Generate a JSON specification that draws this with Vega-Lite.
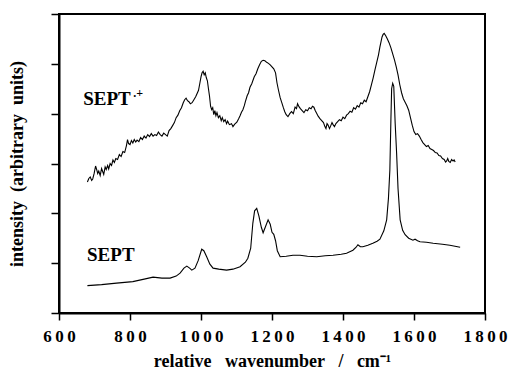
{
  "$schema": "https://vega.github.io/schema/vega-lite/v6.json",
  "width": 426,
  "height": 299,
  "autosize": {"type": "none"},
  "padding": {"left": 59, "top": 14, "right": 25, "bottom": 57},
  "background": "white",
  "config": {
    "view": {"stroke": "black", "strokeWidth": 2},
    "font": "Liberation Serif"
  },
  "datasets": {
    "spectra": [
      {"s":"rad","x":680,"y":2.63},{"s":"rad","x":684,"y":2.70},{"s":"rad","x":688,"y":2.73},{"s":"rad","x":692,"y":2.66},{"s":"rad","x":695,"y":2.69},{"s":"rad","x":699,"y":2.80},{"s":"rad","x":703,"y":2.95},{"s":"rad","x":706,"y":2.88},{"s":"rad","x":709,"y":2.80},{"s":"rad","x":712,"y":2.85},{"s":"rad","x":716,"y":2.76},{"s":"rad","x":720,"y":2.90},{"s":"rad","x":723,"y":2.84},{"s":"rad","x":726,"y":2.78},{"s":"rad","x":730,"y":2.93},{"s":"rad","x":733,"y":2.88},{"s":"rad","x":737,"y":2.96},{"s":"rad","x":740,"y":2.89},{"s":"rad","x":744,"y":3.00},{"s":"rad","x":748,"y":2.96},{"s":"rad","x":752,"y":3.07},{"s":"rad","x":756,"y":3.02},{"s":"rad","x":760,"y":3.10},{"s":"rad","x":765,"y":3.08},{"s":"rad","x":770,"y":3.18},{"s":"rad","x":775,"y":3.14},{"s":"rad","x":780,"y":3.24},{"s":"rad","x":785,"y":3.22},{"s":"rad","x":790,"y":3.36},{"s":"rad","x":793,"y":3.48},{"s":"rad","x":796,"y":3.40},{"s":"rad","x":800,"y":3.38},{"s":"rad","x":804,"y":3.46},{"s":"rad","x":808,"y":3.41},{"s":"rad","x":812,"y":3.48},{"s":"rad","x":816,"y":3.43},{"s":"rad","x":820,"y":3.47},{"s":"rad","x":825,"y":3.44},{"s":"rad","x":830,"y":3.52},{"s":"rad","x":835,"y":3.48},{"s":"rad","x":840,"y":3.55},{"s":"rad","x":845,"y":3.51},{"s":"rad","x":850,"y":3.58},{"s":"rad","x":855,"y":3.54},{"s":"rad","x":860,"y":3.60},{"s":"rad","x":865,"y":3.55},{"s":"rad","x":870,"y":3.58},{"s":"rad","x":875,"y":3.56},{"s":"rad","x":880,"y":3.63},{"s":"rad","x":885,"y":3.58},{"s":"rad","x":890,"y":3.55},{"s":"rad","x":895,"y":3.61},{"s":"rad","x":900,"y":3.58},{"s":"rad","x":905,"y":3.55},{"s":"rad","x":910,"y":3.66},{"s":"rad","x":915,"y":3.70},{"s":"rad","x":920,"y":3.76},{"s":"rad","x":925,"y":3.82},{"s":"rad","x":930,"y":3.92},{"s":"rad","x":935,"y":3.97},{"s":"rad","x":940,"y":4.06},{"s":"rad","x":945,"y":4.12},{"s":"rad","x":950,"y":4.22},{"s":"rad","x":954,"y":4.28},{"s":"rad","x":958,"y":4.31},{"s":"rad","x":962,"y":4.26},{"s":"rad","x":966,"y":4.24},{"s":"rad","x":970,"y":4.20},{"s":"rad","x":975,"y":4.22},{"s":"rad","x":980,"y":4.28},{"s":"rad","x":985,"y":4.34},{"s":"rad","x":990,"y":4.42},{"s":"rad","x":993,"y":4.47},{"s":"rad","x":997,"y":4.62},{"s":"rad","x":1000,"y":4.74},{"s":"rad","x":1003,"y":4.82},{"s":"rad","x":1006,"y":4.85},{"s":"rad","x":1009,"y":4.78},{"s":"rad","x":1012,"y":4.82},{"s":"rad","x":1015,"y":4.72},{"s":"rad","x":1018,"y":4.66},{"s":"rad","x":1021,"y":4.50},{"s":"rad","x":1024,"y":4.35},{"s":"rad","x":1027,"y":4.15},{"s":"rad","x":1030,"y":4.08},{"s":"rad","x":1033,"y":4.12},{"s":"rad","x":1036,"y":3.98},{"s":"rad","x":1039,"y":4.06},{"s":"rad","x":1042,"y":3.96},{"s":"rad","x":1045,"y":4.02},{"s":"rad","x":1049,"y":3.92},{"s":"rad","x":1053,"y":3.96},{"s":"rad","x":1057,"y":3.86},{"s":"rad","x":1060,"y":3.92},{"s":"rad","x":1064,"y":3.84},{"s":"rad","x":1068,"y":3.88},{"s":"rad","x":1072,"y":3.80},{"s":"rad","x":1075,"y":3.85},{"s":"rad","x":1080,"y":3.78},{"s":"rad","x":1086,"y":3.80},{"s":"rad","x":1090,"y":3.74},{"s":"rad","x":1095,"y":3.79},{"s":"rad","x":1101,"y":3.83},{"s":"rad","x":1106,"y":3.90},{"s":"rad","x":1110,"y":3.96},{"s":"rad","x":1114,"y":4.03},{"s":"rad","x":1118,"y":4.08},{"s":"rad","x":1122,"y":4.16},{"s":"rad","x":1125,"y":4.24},{"s":"rad","x":1130,"y":4.36},{"s":"rad","x":1134,"y":4.42},{"s":"rad","x":1138,"y":4.53},{"s":"rad","x":1143,"y":4.60},{"s":"rad","x":1150,"y":4.74},{"s":"rad","x":1155,"y":4.80},{"s":"rad","x":1160,"y":4.90},{"s":"rad","x":1165,"y":4.98},{"s":"rad","x":1170,"y":5.05},{"s":"rad","x":1175,"y":5.07},{"s":"rad","x":1180,"y":5.06},{"s":"rad","x":1185,"y":5.03},{"s":"rad","x":1190,"y":5.01},{"s":"rad","x":1195,"y":4.98},{"s":"rad","x":1200,"y":4.94},{"s":"rad","x":1205,"y":4.90},{"s":"rad","x":1210,"y":4.82},{"s":"rad","x":1214,"y":4.62},{"s":"rad","x":1218,"y":4.48},{"s":"rad","x":1223,"y":4.32},{"s":"rad","x":1228,"y":4.21},{"s":"rad","x":1232,"y":4.12},{"s":"rad","x":1236,"y":4.04},{"s":"rad","x":1240,"y":3.98},{"s":"rad","x":1245,"y":3.94},{"s":"rad","x":1250,"y":4.00},{"s":"rad","x":1255,"y":4.04},{"s":"rad","x":1260,"y":4.00},{"s":"rad","x":1265,"y":4.13},{"s":"rad","x":1269,"y":4.10},{"s":"rad","x":1272,"y":4.20},{"s":"rad","x":1276,"y":4.14},{"s":"rad","x":1280,"y":4.10},{"s":"rad","x":1285,"y":4.06},{"s":"rad","x":1290,"y":4.02},{"s":"rad","x":1295,"y":4.08},{"s":"rad","x":1300,"y":4.06},{"s":"rad","x":1305,"y":4.12},{"s":"rad","x":1310,"y":4.10},{"s":"rad","x":1314,"y":4.15},{"s":"rad","x":1318,"y":4.13},{"s":"rad","x":1322,"y":4.06},{"s":"rad","x":1325,"y":4.02},{"s":"rad","x":1330,"y":3.95},{"s":"rad","x":1335,"y":3.90},{"s":"rad","x":1340,"y":3.86},{"s":"rad","x":1345,"y":3.82},{"s":"rad","x":1349,"y":3.74},{"s":"rad","x":1352,"y":3.70},{"s":"rad","x":1355,"y":3.80},{"s":"rad","x":1358,"y":3.77},{"s":"rad","x":1362,"y":3.70},{"s":"rad","x":1365,"y":3.75},{"s":"rad","x":1369,"y":3.82},{"s":"rad","x":1372,"y":3.78},{"s":"rad","x":1376,"y":3.74},{"s":"rad","x":1380,"y":3.80},{"s":"rad","x":1385,"y":3.84},{"s":"rad","x":1390,"y":3.88},{"s":"rad","x":1395,"y":3.86},{"s":"rad","x":1400,"y":3.93},{"s":"rad","x":1405,"y":3.90},{"s":"rad","x":1410,"y":3.97},{"s":"rad","x":1415,"y":4.00},{"s":"rad","x":1420,"y":4.05},{"s":"rad","x":1425,"y":4.03},{"s":"rad","x":1430,"y":4.12},{"s":"rad","x":1435,"y":4.09},{"s":"rad","x":1440,"y":4.16},{"s":"rad","x":1445,"y":4.13},{"s":"rad","x":1450,"y":4.22},{"s":"rad","x":1455,"y":4.20},{"s":"rad","x":1460,"y":4.27},{"s":"rad","x":1465,"y":4.24},{"s":"rad","x":1470,"y":4.34},{"s":"rad","x":1475,"y":4.44},{"s":"rad","x":1480,"y":4.58},{"s":"rad","x":1485,"y":4.72},{"s":"rad","x":1490,"y":4.88},{"s":"rad","x":1495,"y":5.03},{"s":"rad","x":1500,"y":5.18},{"s":"rad","x":1504,"y":5.34},{"s":"rad","x":1507,"y":5.44},{"s":"rad","x":1510,"y":5.54},{"s":"rad","x":1513,"y":5.59},{"s":"rad","x":1516,"y":5.61},{"s":"rad","x":1520,"y":5.57},{"s":"rad","x":1525,"y":5.50},{"s":"rad","x":1530,"y":5.42},{"s":"rad","x":1535,"y":5.32},{"s":"rad","x":1540,"y":5.20},{"s":"rad","x":1545,"y":5.08},{"s":"rad","x":1550,"y":4.94},{"s":"rad","x":1555,"y":4.78},{"s":"rad","x":1560,"y":4.58},{"s":"rad","x":1565,"y":4.42},{"s":"rad","x":1570,"y":4.30},{"s":"rad","x":1575,"y":4.23},{"s":"rad","x":1580,"y":4.16},{"s":"rad","x":1585,"y":4.07},{"s":"rad","x":1590,"y":3.92},{"s":"rad","x":1595,"y":3.77},{"s":"rad","x":1600,"y":3.64},{"s":"rad","x":1605,"y":3.58},{"s":"rad","x":1610,"y":3.60},{"s":"rad","x":1615,"y":3.55},{"s":"rad","x":1620,"y":3.48},{"s":"rad","x":1625,"y":3.42},{"s":"rad","x":1630,"y":3.38},{"s":"rad","x":1635,"y":3.34},{"s":"rad","x":1640,"y":3.36},{"s":"rad","x":1645,"y":3.30},{"s":"rad","x":1650,"y":3.28},{"s":"rad","x":1655,"y":3.26},{"s":"rad","x":1660,"y":3.22},{"s":"rad","x":1665,"y":3.21},{"s":"rad","x":1670,"y":3.16},{"s":"rad","x":1675,"y":3.15},{"s":"rad","x":1680,"y":3.10},{"s":"rad","x":1685,"y":3.08},{"s":"rad","x":1689,"y":3.03},{"s":"rad","x":1692,"y":3.05},{"s":"rad","x":1695,"y":3.10},{"s":"rad","x":1698,"y":3.04},{"s":"rad","x":1702,"y":3.02},{"s":"rad","x":1706,"y":3.08},{"s":"rad","x":1710,"y":3.05},{"s":"rad","x":1713,"y":3.07},{"s":"rad","x":1716,"y":3.03},
      {"s":"neu","x":680,"y":0.55},{"s":"neu","x":720,"y":0.57},{"s":"neu","x":762,"y":0.60},{"s":"neu","x":808,"y":0.63},{"s":"neu","x":840,"y":0.68},{"s":"neu","x":865,"y":0.72},{"s":"neu","x":890,"y":0.70},{"s":"neu","x":913,"y":0.70},{"s":"neu","x":930,"y":0.74},{"s":"neu","x":941,"y":0.80},{"s":"neu","x":952,"y":0.90},{"s":"neu","x":960,"y":0.94},{"s":"neu","x":968,"y":0.90},{"s":"neu","x":974,"y":0.86},{"s":"neu","x":983,"y":0.90},{"s":"neu","x":992,"y":1.05},{"s":"neu","x":1002,"y":1.28},{"s":"neu","x":1008,"y":1.25},{"s":"neu","x":1016,"y":1.13},{"s":"neu","x":1025,"y":0.98},{"s":"neu","x":1034,"y":0.90},{"s":"neu","x":1050,"y":0.88},{"s":"neu","x":1072,"y":0.86},{"s":"neu","x":1090,"y":0.88},{"s":"neu","x":1110,"y":0.93},{"s":"neu","x":1125,"y":1.02},{"s":"neu","x":1132,"y":1.10},{"s":"neu","x":1140,"y":1.30},{"s":"neu","x":1146,"y":1.80},{"s":"neu","x":1151,"y":2.05},{"s":"neu","x":1157,"y":2.10},{"s":"neu","x":1163,"y":1.95},{"s":"neu","x":1170,"y":1.72},{"s":"neu","x":1175,"y":1.61},{"s":"neu","x":1181,"y":1.72},{"s":"neu","x":1189,"y":1.87},{"s":"neu","x":1195,"y":1.78},{"s":"neu","x":1200,"y":1.62},{"s":"neu","x":1205,"y":1.58},{"s":"neu","x":1210,"y":1.45},{"s":"neu","x":1215,"y":1.25},{"s":"neu","x":1223,"y":1.13},{"s":"neu","x":1240,"y":1.14},{"s":"neu","x":1259,"y":1.16},{"s":"neu","x":1279,"y":1.16},{"s":"neu","x":1300,"y":1.14},{"s":"neu","x":1326,"y":1.13},{"s":"neu","x":1350,"y":1.15},{"s":"neu","x":1372,"y":1.16},{"s":"neu","x":1395,"y":1.18},{"s":"neu","x":1410,"y":1.20},{"s":"neu","x":1428,"y":1.26},{"s":"neu","x":1437,"y":1.32},{"s":"neu","x":1442,"y":1.37},{"s":"neu","x":1449,"y":1.33},{"s":"neu","x":1456,"y":1.33},{"s":"neu","x":1470,"y":1.36},{"s":"neu","x":1484,"y":1.40},{"s":"neu","x":1496,"y":1.44},{"s":"neu","x":1504,"y":1.48},{"s":"neu","x":1515,"y":1.65},{"s":"neu","x":1523,"y":1.87},{"s":"neu","x":1528,"y":2.30},{"s":"neu","x":1532,"y":2.87},{"s":"neu","x":1535,"y":3.90},{"s":"neu","x":1537,"y":4.50},{"s":"neu","x":1540,"y":4.61},{"s":"neu","x":1543,"y":4.55},{"s":"neu","x":1547,"y":3.80},{"s":"neu","x":1551,"y":3.21},{"s":"neu","x":1555,"y":2.50},{"s":"neu","x":1561,"y":1.87},{"s":"neu","x":1568,"y":1.66},{"s":"neu","x":1575,"y":1.57},{"s":"neu","x":1585,"y":1.50},{"s":"neu","x":1597,"y":1.46},{"s":"neu","x":1603,"y":1.48},{"s":"neu","x":1610,"y":1.45},{"s":"neu","x":1617,"y":1.43},{"s":"neu","x":1635,"y":1.42},{"s":"neu","x":1654,"y":1.40},{"s":"neu","x":1680,"y":1.38},{"s":"neu","x":1701,"y":1.36},{"s":"neu","x":1730,"y":1.32}
    ],
    "labels": [
      {"x": 668, "y": 4.17, "t": "SEPT"},
      {"x": 679, "y": 1.05, "t": "SEPT"}
    ],
    "sup": [
      {"x": 809, "y": 4.33, "t": ".+"}
    ]
  },
  "layer": [
    {
      "data": {"name": "spectra"},
      "mark": {"type": "line", "color": "black", "strokeWidth": 1.1, "clip": true},
      "encoding": {
        "x": {
          "field": "x", "type": "quantitative",
          "scale": {"domain": [600, 1800], "nice": false, "zero": false},
          "axis": {
            "values": [600, 800, 1000, 1200, 1400, 1600, 1800],
            "format": "d",
            "labelExpr": "replace(datum.label, regexp('(\\\\d)(?=\\\\d)', 'g'), '$1\u2009')",
            "title": "relative\u00A0\u00A0\u00A0wavenumber\u00A0\u00A0\u00A0/\u00A0\u00A0\u00A0cm\u207B\u00B9",
            "titleFont": "Liberation Serif", "titleFontSize": 18, "titleFontWeight": "bold", "titleColor": "black",
            "titlePadding": 8,
            "labelFont": "Liberation Serif", "labelFontSize": 17, "labelFontWeight": "bold", "labelColor": "black",
            "labelPadding": 8, "labelFlush": false,
            "tickSize": 7, "tickColor": "black", "tickWidth": 1.5,
            "domainColor": "black", "domainWidth": 2, "grid": false
          }
        },
        "y": {
          "field": "y", "type": "quantitative",
          "scale": {"domain": [0, 6], "nice": false, "zero": false},
          "axis": {
            "values": [0, 1, 2, 3, 4, 5, 6],
            "labels": false,
            "title": "intensity\u00A0\u00A0(arbitrary\u00A0\u00A0units)",
            "titleFont": "Liberation Serif", "titleFontSize": 18, "titleFontWeight": "bold", "titleColor": "black",
            "titlePadding": 24,
            "tickSize": 8, "tickColor": "black", "tickWidth": 1.5,
            "domainColor": "black", "domainWidth": 2, "grid": false
          }
        },
        "detail": {"field": "s", "type": "nominal"}
      }
    },
    {
      "data": {"name": "labels"},
      "mark": {"type": "text", "align": "left", "baseline": "alphabetic", "font": "Liberation Serif", "fontSize": 19, "fontWeight": "bold", "color": "black"},
      "encoding": {
        "x": {"field": "x", "type": "quantitative"},
        "y": {"field": "y", "type": "quantitative"},
        "text": {"field": "t"}
      }
    },
    {
      "data": {"name": "sup"},
      "mark": {"type": "text", "align": "left", "baseline": "alphabetic", "font": "Liberation Serif", "fontSize": 12, "fontWeight": "bold", "color": "black"},
      "encoding": {
        "x": {"field": "x", "type": "quantitative"},
        "y": {"field": "y", "type": "quantitative"},
        "text": {"field": "t"}
      }
    }
  ]
}
